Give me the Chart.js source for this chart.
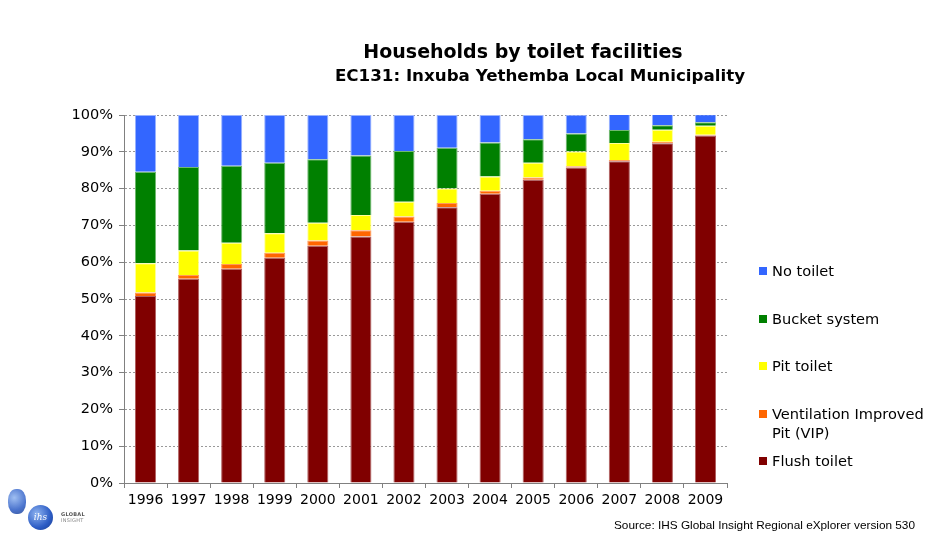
<!DOCTYPE html>
<html>
<head>
<meta charset="utf-8">
<script src="https://cdn.jsdelivr.net/npm/chart.js@4.4.1/dist/chart.umd.min.js"></script>
<style>
  body { margin: 0; background: #fff; font-family: "DejaVu Sans", Verdana, sans-serif; }
  #wrap { position: relative; width: 943px; height: 534px; overflow: hidden; }
  #chart { position: absolute; left: 0; top: 0; }
  .title { position: absolute; font-weight: bold; color: #000; white-space: nowrap; transform: translateX(-50%); }
  #t1 { left: 523px; top: 40px; font-size: 19px; }
  #t2 { left: 540px; top: 65px; font-size: 16.7px; }
  #legend { position: absolute; left: 759px; top: 261px; width: 180px; }
  .item { position: relative; height: 47.5px; font-size: 14.6px; line-height: 19px; color: #000; }
  .item .box { position: absolute; left: 0; top: 6px; width: 8px; height: 8px; }
  .item .txt { position: absolute; left: 13px; top: 0; width: 167px; }
  #source { position: absolute; right: 28px; top: 518px; font: 11.8px "Liberation Sans", Arial, sans-serif; color: #000; }
  .logo { position: absolute; border-radius: 50%; background: radial-gradient(circle at 35% 35%, #8fb4f0, #2c5cc5 60%, #1a3c8c); }
  #logo1 { left: 8px; top: 489px; width: 18px; height: 25px; border-radius: 45%; opacity: 0.85; }
  #logo2 { left: 28px; top: 505px; width: 25px; height: 25px; color: #fff; font: italic 9px "DejaVu Serif", serif; text-align: center; line-height: 25px; }
  #logoText { position: absolute; left: 61px; top: 511px; font: bold 5px "DejaVu Sans", sans-serif; color: #555; line-height: 6px; letter-spacing: 0.3px; }
</style>
</head>
<body>
<div id="wrap">
  <canvas id="chart" width="943" height="534"></canvas>
  <div class="title" id="t1">Households by toilet facilities</div>
  <div class="title" id="t2">EC131: Inxuba Yethemba Local Municipality</div>
  <div id="legend"></div>
  <div id="source">Source: IHS Global Insight Regional eXplorer version 530</div>
  <div class="logo" id="logo1"></div>
  <div class="logo" id="logo2">ihs</div>
  <div id="logoText">GLOBAL<br><span style="font-weight:normal;color:#888">INSIGHT</span></div>
</div>
<script>
// share of households per toilet type, in percent
const years = ["1996", "1997", "1998", "1999", "2000", "2001", "2002", "2003", "2004", "2005", "2006", "2007", "2008", "2009"];
const flushToilet = [50.8, 55.5, 58.2, 61.2, 64.5, 67.0, 71.0, 74.9, 78.6, 82.4, 85.7, 87.4, 92.3, 94.4];
const vipToilet = [1.0, 1.0, 1.3, 1.4, 1.4, 1.7, 1.4, 1.2, 0.8, 0.6, 0.4, 0.4, 0.4, 0.2];
const pitToilet = [7.9, 6.7, 5.8, 5.3, 4.8, 4.1, 4.0, 3.9, 3.9, 4.0, 4.0, 4.6, 3.3, 2.5];
const bucketSystem = [24.9, 22.7, 20.9, 19.1, 17.3, 16.2, 13.8, 11.1, 9.2, 6.4, 4.9, 3.5, 1.2, 0.9];
const noToilet = [15.4, 14.1, 13.8, 13.0, 12.0, 11.0, 9.8, 8.9, 7.5, 6.6, 5.1, 4.5, 3.1, 2.2];

const yTicks = [0, 10, 20, 30, 40, 50, 60, 70, 80, 90, 100];

const series = [
  { label: "Flush toilet", data: flushToilet, color: "#800000", edge: "#b06060" },
  { label: "Ventilation Improved Pit (VIP)", data: vipToilet, color: "#ff6600", edge: "#ff9a5a" },
  { label: "Pit toilet", data: pitToilet, color: "#ffff00", edge: "#ffff99" },
  { label: "Bucket system", data: bucketSystem, color: "#008000", edge: "#70b870" },
  { label: "No toilet", data: noToilet, color: "#3366ff", edge: "#99b3ff" },
];

const ctx = document.getElementById("chart").getContext("2d");

new Chart(ctx, {
  type: "bar",
  data: {
    labels: years,
    datasets: series.map((s) => ({
      label: s.label,
      data: s.data,
      backgroundColor: s.color,
      borderColor: s.edge,
      borderWidth: 1,
      barPercentage: 0.49,
      categoryPercentage: 1,
    })),
  },
  options: {
    responsive: false,
    animation: false,
    layout: { padding: { top: 115, right: 216, left: 0, bottom: 0 } },
    plugins: {
      legend: { display: false },
      tooltip: { enabled: false },
    },
    scales: {
      x: {
        stacked: true,
        afterFit: (scale) => { scale.height = 51; },
        border: { color: "#808080", width: 1 },
        grid: { drawOnChartArea: false, tickLength: 5, color: "#808080" },
        ticks: { color: "#000", font: { family: "DejaVu Sans", size: 14 }, padding: 4 },
      },
      y: {
        stacked: true,
        min: 0,
        max: 100,
        afterFit: (scale) => { scale.width = 124; },
        afterBuildTicks: (scale) => { scale.ticks = yTicks.map((v) => ({ value: v })); },
        // dotted grid lines, solid axis line and tick marks
        border: { color: "#808080", width: 1, dash: [2, 2] },
        grid: {
          color: "#999999",
          tickLength: 5,
          tickColor: "#808080",
          tickBorderDash: [],
        },
        ticks: {
          color: "#000",
          font: { family: "DejaVu Sans", size: 14.5 },
          padding: 6,
          callback: (v) => v + "%",
        },
      },
    },
  },
});

// legend, top series first
const legend = document.getElementById("legend");
series.slice().reverse().forEach((s) => {
  const item = document.createElement("div");
  item.className = "item";
  item.innerHTML = '<span class="box" style="background:' + s.color + '"></span><span class="txt">' + s.label + "</span>";
  legend.appendChild(item);
});
</script>
</body>
</html>
